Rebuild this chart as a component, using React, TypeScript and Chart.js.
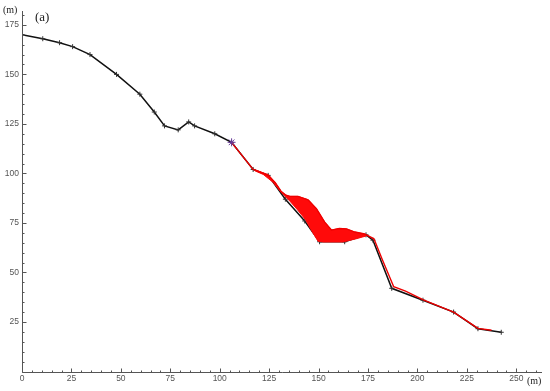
import React, { useEffect, useRef } from 'react';
import { Chart, registerables } from 'chart.js';

Chart.register(...registerables);

// Terrain profile (black, with + markers)
const profileX = [0, 10.5, 19, 25.6, 34.4, 47.8, 59.6, 66.9, 72.1, 79, 84.3, 87.3, 97.5, 106, 116.9, 124.5, 133.2, 143, 150.5, 163.2, 174, 177.5, 187, 202.8, 218.3, 230.6, 242.4];
const profileY = [170, 168, 166, 164, 160, 150, 140, 131, 124, 122, 126, 124, 120, 115.7, 102, 99, 87, 76, 65.5, 65.5, 69, 66.3, 42, 36, 30, 21.6, 19.8];

// Flow path (red line), following the upper edge of the deposit
const flowX = [106, 116.9, 124.5, 128, 131, 133.5, 135.5, 139.6, 144.7, 148.9, 153.1, 156.5, 160.5, 164.1, 168.3, 173.3, 178, 182, 188, 194, 203, 218.3, 230.6, 237.5];
const flowY = [115.7, 102, 99, 95.5, 91, 89, 88.4, 88.4, 86.7, 82.2, 75.4, 71.4, 72.2, 72, 70.4, 69.4, 67, 57, 42.8, 40.6, 36.2, 30, 21.8, 20.8];

// Deposit envelope (red filled area): upper edge then lower edge back
const blobX = [118, 124.5, 128, 131, 133.5, 135.5, 139.6, 144.7, 148.9, 153.1, 156.5, 160.5, 164.1, 168.3, 173.3, 174, 169, 162.3, 152.3, 149.7, 146.5, 143.5, 139, 135.5, 131, 127, 122, 118];
const blobY = [101.8, 99.4, 95.5, 91, 89, 88.4, 88.4, 86.7, 82.2, 75.4, 71.4, 72.2, 72, 70.4, 69.4, 68.4, 67, 65.4, 65.4, 65.8, 71, 76.5, 82, 86, 90.5, 95.5, 99.5, 101.2];

// Source point (purple star)
const sourceX = [106];
const sourceY = [115.7];

const xMax = 263;
const yMax = 182;
const majorStep = 25;
const minorStep = 5;

const pts = (xs: number[], ys: number[]) => xs.map((x, i) => ({ x, y: ys[i] }));

const decor = {
  id: 'decor',
  afterDraw(chart: any) {
    const { ctx, chartArea: a, scales } = chart;
    const x = scales.x;
    const y = scales.y;
    ctx.save();
    ctx.strokeStyle = '#555';
    ctx.lineWidth = 1;
    ctx.beginPath();
    const ax = Math.round(a.left) + 0.5;
    const ay = Math.round(a.bottom) + 0.5;
    ctx.moveTo(ax, a.top);
    ctx.lineTo(ax, ay);
    ctx.lineTo(a.right, ay);
    for (let v = 0; v <= xMax; v += minorStep) {
      const px = Math.round(x.getPixelForValue(v)) + 0.5;
      const len = v % majorStep === 0 ? 4 : 2;
      ctx.moveTo(px, ay);
      ctx.lineTo(px, ay - len);
    }
    for (let v = 0; v <= yMax; v += minorStep) {
      const py = Math.round(y.getPixelForValue(v)) + 0.5;
      const len = v % majorStep === 0 ? 4 : 2;
      ctx.moveTo(ax, py);
      ctx.lineTo(ax + len, py);
    }
    ctx.stroke();
    ctx.fillStyle = '#222';
    ctx.font = '10px "Liberation Serif"';
    ctx.textBaseline = 'middle';
    ctx.textAlign = 'left';
    ctx.fillText('(m)', 3, 10);
    ctx.fillText('(m)', a.right - 15, ay + 9);
    ctx.font = '13px "Liberation Serif"';
    ctx.fillText('(a)', 35, 18);
    ctx.restore();
  },
};

export default function App() {
  const ref = useRef<HTMLCanvasElement | null>(null);
  useEffect(() => {
    if (!ref.current) return;
    const chart = new Chart(ref.current, {
      type: 'scatter',
      data: {
        datasets: [
          {
            data: pts(sourceX, sourceY),
            showLine: false,
            pointStyle: 'star',
            pointRadius: 4,
            pointBorderColor: '#6a3d9a',
            pointBorderWidth: 1,
            order: 0,
          },
          {
            data: pts(flowX, flowY),
            showLine: true,
            borderColor: '#ee0000',
            borderWidth: 1.4,
            pointRadius: 0,
            tension: 0,
            order: 1,
          },
          {
            data: pts(blobX, blobY),
            showLine: true,
            borderColor: '#ff0a0a',
            backgroundColor: '#ff0a0a',
            borderWidth: 1,
            pointRadius: 0,
            fill: 'shape',
            tension: 0,
            order: 2,
          },
          {
            data: pts(profileX, profileY),
            showLine: true,
            borderColor: '#111111',
            borderWidth: 1.5,
            pointStyle: 'cross',
            pointRadius: 2.5,
            pointBorderColor: '#333333',
            pointBorderWidth: 1,
            tension: 0,
            order: 3,
          },
        ] as any,
      },
      options: {
        animation: false,
        responsive: false,
        devicePixelRatio: 1,
        layout: { padding: { left: 0, top: 11, right: 8, bottom: 0 } },
        plugins: { legend: { display: false }, tooltip: { enabled: false } },
        scales: {
          x: {
            type: 'linear',
            min: 0,
            max: xMax,
            grid: { display: false, drawTicks: false },
            border: { display: false },
            ticks: {
              stepSize: majorStep,
              color: '#555',
              padding: 2,
              maxRotation: 0,
              font: { family: '"Liberation Sans"', size: 8.5 },
              callback: (v: any) => (v % majorStep === 0 ? String(v) : ''),
            },
            afterFit: (s: any) => { s.height = 19.5; },
          },
          y: {
            type: 'linear',
            min: 0,
            max: yMax,
            grid: { display: false, drawTicks: false },
            border: { display: false },
            ticks: {
              stepSize: majorStep,
              color: '#555',
              padding: 3,
              font: { family: '"Liberation Sans"', size: 8.5 },
              callback: (v: any) => (v === 0 || v % majorStep !== 0 ? '' : String(v)),
            },
            afterFit: (s: any) => { s.width = 22; },
          },
        },
      } as any,
      plugins: [decor],
    });
    return () => chart.destroy();
  }, []);
  return (
    <div style={{ position: 'absolute', left: 0, top: 0, width: 550, height: 391, background: '#fff' }}>
      <canvas ref={ref} width={550} height={391} />
    </div>
  );
}
